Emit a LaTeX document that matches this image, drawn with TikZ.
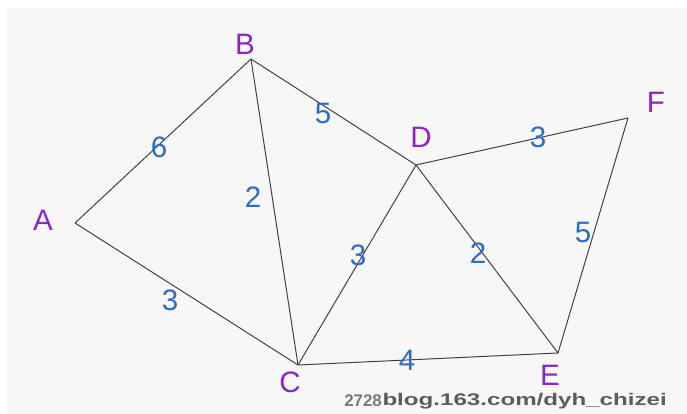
\documentclass[tikz,border=0pt]{standalone}
\usepackage{fontspec}
\setmainfont{Liberation Sans}
\definecolor{vtxcol}{HTML}{8E24C8}
\definecolor{wtcol}{HTML}{2B6CC8}
\definecolor{edgecol}{HTML}{404040}
\definecolor{bgcol}{HTML}{F7F7F7}
\definecolor{markcol}{HTML}{7A7A7A}

\begin{document}
\begin{tikzpicture}[
  x=0.025cm, y=-0.025cm,
  vlabel/.style={font=\fontsize{21}{21}\selectfont, text=vtxcol, inner sep=0pt},
  wt/.style={font=\fontsize{21}{21}\selectfont, text=wtcol, inner sep=0pt},
  edge/.style={draw=edgecol, line width=0.7pt},
  wmark/.style={font=\fontsize{12}{12}\selectfont\bfseries, text=markcol, inner sep=0pt, anchor=west},
]

% Canvas
\useasboundingbox (0,0) rectangle (687,414);
\fill[white] (0,0) rectangle (687,414);
\fill[bgcol] (7,8) rectangle (687,414);

% Vertices
\coordinate (A) at (75,223);
\coordinate (B) at (251,59);
\coordinate (C) at (298,365);
\coordinate (D) at (416,165);
\coordinate (E) at (558,353);
\coordinate (F) at (628,118);

% Vertex labels
\node[vlabel] (lA) at (43,220) {A};
\node[vlabel] (lB) at (245,44) {B};
\node[vlabel] (lC) at (290,382) {C};
\node[vlabel] (lD) at (421,137) {D};
\node[vlabel] (lE) at (550,375) {E};
\node[vlabel] (lF) at (656,102) {F};

% Edges
\draw[edge] (A) -- (B);
\draw[edge] (A) -- (C);
\draw[edge] (B) -- (C);
\draw[edge] (B) -- (D);
\draw[edge] (C) -- (D);
\draw[edge] (C) -- (E);
\draw[edge] (D) -- (E);
\draw[edge] (D) -- (F);
\draw[edge] (F) -- (E);

% Weights
\node[wt] (wAB) at (159,147) {6};
\node[wt] (wBD) at (323,113) {5};
\node[wt] (wBC) at (253,197) {2};
\node[wt] (wDF) at (538,137) {3};
\node[wt] (wCD) at (358,255) {3};
\node[wt] (wDE) at (478,253) {2};
\node[wt] (wFE) at (583,232) {5};
\node[wt] (wAC) at (170,300) {3};
\node[wt] (wCE) at (407,360) {4};

% Watermark
\node[wmark] (mk1) at (344,401) {2728};
\node[wmark, text=markcol!75!black, xscale=1.43, transform shape] (mk2) at (mk1.east) {blog.163.com/dyh\_chizei};

\end{tikzpicture}
\end{document}
